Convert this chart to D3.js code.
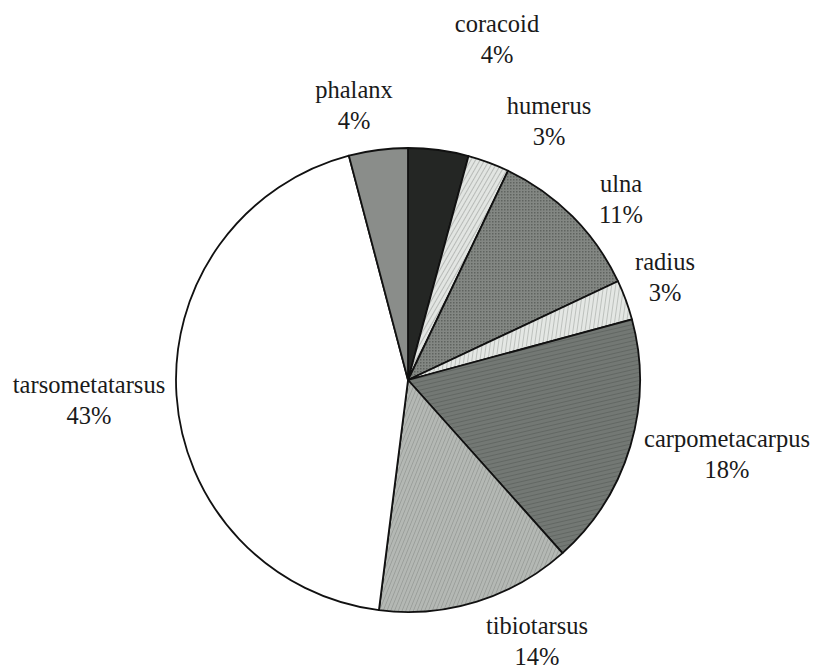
<!DOCTYPE html>
<html>
<head>
<meta charset="utf-8">
<script src="https://cdn.jsdelivr.net/npm/d3@7"></script>
<style>
  body { margin: 0; background: #fff; }
</style>
</head>
<body>
<svg id="chart" width="816" height="670"></svg>
<script>
// bones, clockwise from 12 o'clock
var bones = ["coracoid","humerus","ulna","radius","carpometacarpus","tibiotarsus","tarsometatarsus","phalanx"];
var shares = [4.2, 2.9, 10.9, 2.8, 17.6, 13.6, 43.9, 4.1];
var pctLabels = ["4%","3%","11%","3%","18%","14%","43%","4%"];

var svg = d3.select("#chart");
var cx = 408, cy = 380, r = 232;
var serif = "Liberation Serif, DejaVu Serif, serif";

// fill patterns
var defs = svg.append("defs");
function stripes(id, bg, line, angle, gap, w){
  var p = defs.append("pattern").attr("id", id)
    .attr("patternUnits","userSpaceOnUse")
    .attr("width", gap).attr("height", gap)
    .attr("patternTransform","rotate(" + angle + ")");
  p.append("rect").attr("width", gap).attr("height", gap).attr("fill", bg);
  p.append("line").attr("x1",0).attr("y1",0).attr("x2",0).attr("y2",gap)
    .attr("stroke", line).attr("stroke-width", w);
}
stripes("humP", "#e2e5e2", "#9a9e9a", 30, 4, 1.2);
stripes("radP", "#e4e7e4", "#a3a7a3", 8, 4, 1.2);
stripes("carP", "#737874", "#5a5f5b", 77, 4, 1.4);
stripes("tibP", "#b4b8b4", "#8e928e", 22, 3.5, 1.2);
var dot = defs.append("pattern").attr("id","ulnP")
  .attr("patternUnits","userSpaceOnUse").attr("width",3).attr("height",3);
dot.append("rect").attr("width",3).attr("height",3).attr("fill","#838783");
dot.append("rect").attr("width",1.5).attr("height",1.5).attr("fill","#5f635f");

var fills = ["#242624","url(#humP)","url(#ulnP)","url(#radP)","url(#carP)","url(#tibP)","#ffffff","#8a8d8a"];

var pie = d3.pie().sort(null).value(function(d){ return d; });
var arc = d3.arc().innerRadius(0).outerRadius(r);

var g = svg.append("g").attr("transform","translate(" + cx + "," + cy + ")");
g.selectAll("path")
  .data(pie(shares))
  .enter()
  .append("path")
  .attr("d", arc)
  .attr("fill", function(d,i){ return fills[i]; })
  .attr("stroke", "#111")
  .attr("stroke-width", 1.8)
  .attr("stroke-linejoin","round");

// label anchor points (centre of the name line baseline)
var labelX = [497, 549, 621, 665, 727, 537, 89, 354];
var labelY = [32, 114, 192, 270, 447, 634, 393, 98];

var lab = svg.selectAll("g.lab")
  .data(bones)
  .enter()
  .append("g")
  .attr("class","lab")
  .attr("transform", function(d,i){ return "translate(" + labelX[i] + "," + labelY[i] + ")"; });
lab.append("text")
  .attr("text-anchor","middle")
  .style("font-family", serif).style("font-size", "24.5px").attr("fill", "#1a1a1a")
  .text(function(d){ return d; });
lab.append("text")
  .attr("text-anchor","middle").attr("y", 31)
  .style("font-family", serif).style("font-size", "24.5px").attr("fill", "#1a1a1a")
  .text(function(d,i){ return pctLabels[i]; });
</script>
</body>
</html>
